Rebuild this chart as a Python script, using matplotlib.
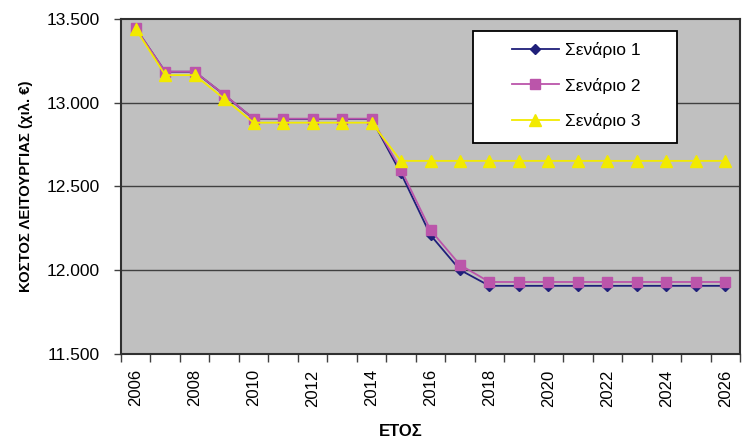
import matplotlib
matplotlib.use("Agg")
import matplotlib.pyplot as plt
from matplotlib.patches import Rectangle
from matplotlib.ticker import FuncFormatter, FixedLocator

plt.rcParams['font.family'] = ['Liberation Sans', 'DejaVu Sans']

years = list(range(2006, 2027))
scenario_1 = [13445, 13185, 13185, 13048, 12903, 12903, 12903, 12903, 12903,
              12578, 12210, 12002, 11907, 11907, 11907, 11907, 11907, 11907,
              11907, 11907, 11907]
scenario_2 = [13445, 13186, 13186, 13049, 12905, 12905, 12905, 12905, 12905,
              12601, 12240, 12032, 11930, 11930, 11930, 11930, 11930, 11930,
              11930, 11930, 11930]
scenario_3 = [13440, 13165, 13165, 13024, 12881, 12881, 12881, 12881, 12881,
              12653, 12653, 12653, 12653, 12653, 12653, 12653, 12653, 12653,
              12653, 12653, 12653]
series_names = ['Σενάριο 1', 'Σενάριο 2', 'Σενάριο 3']
y_ticks = [11500, 12000, 12500, 13000, 13500]

fig = plt.figure(figsize=(7.44, 4.40), dpi=100)
ax = fig.add_axes([121 / 744, 1 - 354 / 440, 619 / 744, 335 / 440])
ax.set_facecolor('#C0C0C0')

x = list(range(len(years)))
ax.plot(x, scenario_1, color='#1F1F7A', lw=1.3, marker='D', ms=5,
        mfc='#1F1F7A', mec='#1F1F7A', label=series_names[0], zorder=3)
ax.plot(x, scenario_2, color='#BB55AA', lw=1.3, marker='s', ms=7.5,
        mfc='#BB55AA', mec='#BB55AA', label=series_names[1], zorder=4)
ax.plot(x, scenario_3, color='#F2EA00', lw=1.3, marker='^', ms=8.5,
        mfc='#F2EA00', mec='#F2EA00', label=series_names[2], zorder=5)

ax.set_xlim(-0.5, len(years) - 0.5)
ax.set_ylim(y_ticks[0], y_ticks[-1])

# Category axis: tick marks between categories, labels on every other year
ax.xaxis.set_major_locator(FixedLocator(x[::2]))
ax.set_xticklabels([str(y) for y in years[::2]], rotation=90, fontsize=12)
ax.xaxis.set_minor_locator(FixedLocator([i - 0.5 for i in range(len(years) + 1)]))
ax.tick_params(axis='x', which='major', length=0, pad=11)
ax.tick_params(axis='x', which='minor', length=6, width=1, color='#404040',
               direction='out')

ax.set_yticks(y_ticks)
ax.yaxis.set_major_formatter(FuncFormatter(lambda v, p: f"{int(v):,}".replace(',', '.')))
ax.tick_params(axis='y', length=5, width=1, color='#404040', direction='out',
               labelsize=12.5, pad=10)

for v in y_ticks[1:-1]:
    ax.axhline(v, color='#404040', lw=1, zorder=1)

for s in ax.spines.values():
    s.set_color('#303030')
    s.set_linewidth(1.5)

ax.set_ylabel('ΚΟΣΤΟΣ ΛΕΙΤΟΥΡΓΙΑΣ (χιλ. €)', fontsize=10.7, fontweight='bold')
ax.yaxis.set_label_coords(-0.142, 0.5)
fig.text(401 / 744, 1 - 431 / 440, 'ΕΤΟΣ', fontsize=12, fontweight='bold',
         ha='center', va='center')

# Legend box with the entries set in its right part
ax.add_patch(Rectangle((0.569, 0.629), 0.3297, 0.336, transform=ax.transAxes,
                       facecolor='white', edgecolor='black', lw=1.3, zorder=9,
                       clip_on=False))
leg = ax.legend(loc='upper left', bbox_to_anchor=(0.6317, 0.930),
                frameon=False, fontsize=12.5, labelspacing=1.1,
                handlelength=2.7, borderpad=0, borderaxespad=0,
                handletextpad=0.35)
leg.set_zorder(10)

fig.savefig('out.png', dpi=100)
